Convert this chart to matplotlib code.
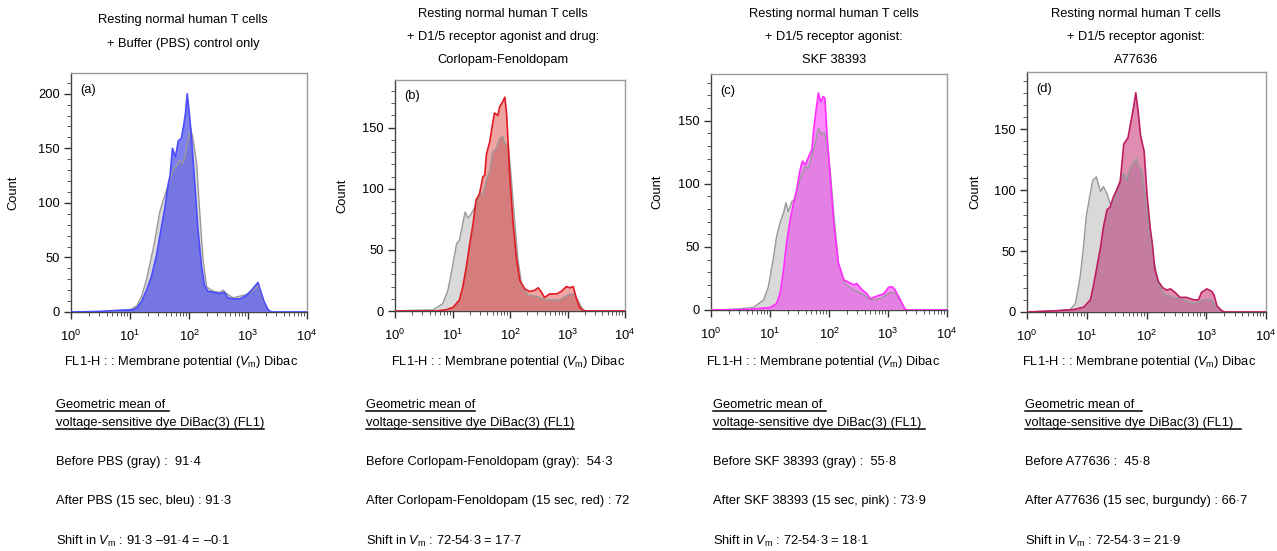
import numpy as np
import matplotlib
matplotlib.use("Agg")
import matplotlib.pyplot as plt
from matplotlib.ticker import LogLocator, MultipleLocator, NullFormatter
from matplotlib.lines import Line2D

plt.rcParams["font.family"] = ["Liberation Sans", "DejaVu Sans"]
plt.rcParams["mathtext.fontset"] = "custom"
plt.rcParams["mathtext.rm"] = "Liberation Sans"
plt.rcParams["mathtext.it"] = "Liberation Sans:italic"
plt.rcParams["mathtext.bf"] = "Liberation Sans:bold"

# ─── DATA (log10 FL1-H, count) ────────────────────────────────────────────────
a_gray_log = [0.0, 0.6, 1.0, 1.12, 1.2, 1.28, 1.4, 1.51, 1.62, 1.73, 1.79, 1.84, 1.89, 1.93,
              1.99, 2.03, 2.07, 2.13, 2.18, 2.24, 2.3, 2.41, 2.52, 2.58, 2.63, 2.75, 2.97,
              3.09, 3.17, 3.25, 3.36, 4.0]
a_gray_cnt = [0, 0.5, 2, 6, 15, 30, 60, 93, 112, 130, 134, 139, 136, 142,
              160, 168, 158, 136, 93, 47, 23, 19, 18, 20, 17, 13, 16,
              20, 24, 11, 0, 0]
a_col_log = [0.0, 0.5, 0.8, 1.05, 1.12, 1.2, 1.28, 1.36, 1.45, 1.53, 1.59, 1.65, 1.68, 1.72,
             1.77, 1.82, 1.87, 1.91, 1.94, 1.97, 2.0, 2.04, 2.1, 2.15, 2.21, 2.26, 2.32,
             2.42, 2.52, 2.6, 2.66, 2.75, 2.86, 2.97, 3.06, 3.12, 3.17, 3.21, 3.27, 3.34,
             3.4, 4.0]
a_col_cnt = [0, 0.5, 1.5, 2, 4, 10, 20, 32, 52, 77, 95, 118, 125, 150,
             142, 157, 159, 171, 182, 200, 185, 162, 116, 77, 43, 25, 19,
             18, 17, 18, 13, 12, 12, 15, 20, 24, 27, 20, 10, 2,
             0, 0]

b_gray_log = [0.0, 0.26, 0.66, 0.83, 0.92, 1.01, 1.07, 1.12, 1.18, 1.22, 1.27, 1.33, 1.39,
              1.47, 1.53, 1.59, 1.65, 1.70, 1.76, 1.82, 1.87, 1.91, 1.97, 2.02, 2.08, 2.14,
              2.20, 2.31, 2.46, 2.63, 2.86, 3.04, 3.12, 3.21, 3.27, 3.32, 4.0]
b_gray_cnt = [0, 0.5, 1, 6, 17, 39, 55, 58, 72, 81, 76, 80, 85,
              96, 96, 107, 115, 130, 133, 141, 143, 137, 136, 110, 74, 42,
              22, 13, 12, 9, 9, 14, 14, 6, 1, 0, 0]
b_col_log = [0.0, 0.72, 0.89, 1.01, 1.12, 1.18, 1.24, 1.30, 1.36, 1.41, 1.47, 1.53, 1.56,
             1.59, 1.65, 1.70, 1.73, 1.79, 1.82, 1.87, 1.91, 1.94, 1.97, 1.99, 2.05, 2.11,
             2.17, 2.26, 2.34, 2.43, 2.49, 2.54, 2.60, 2.69, 2.81, 2.89, 2.98, 3.04, 3.10,
             3.15, 3.21, 3.27, 3.32, 4.0]
b_col_cnt = [0, 0, 1, 3, 9, 20, 36, 55, 72, 91, 96, 110, 111,
             128, 139, 154, 162, 160, 167, 171, 175, 162, 135, 115, 74, 44,
             25, 18, 16, 17, 19, 16, 11, 14, 14, 16, 20, 19, 20,
             11, 3, 0.5, 0, 0]

c_gray_log = [0.0, 0.38, 0.72, 0.89, 0.97, 1.06, 1.11, 1.17, 1.23, 1.27, 1.31, 1.37, 1.43,
              1.48, 1.54, 1.60, 1.65, 1.71, 1.77, 1.82, 1.88, 1.92, 1.96, 2.02, 2.08, 2.16,
              2.27, 2.42, 2.59, 2.70, 2.87, 3.04, 3.12, 3.21, 3.29, 3.34, 4.0]
c_gray_cnt = [0, 0.5, 2, 8, 18, 42, 58, 69, 77, 85, 78, 86, 88,
              99, 108, 114, 112, 123, 133, 144, 139, 141, 133, 111, 77, 37,
              21, 16, 12, 8, 9, 14, 14, 7, 0.5, 0, 0]
c_col_log = [0.0, 0.66, 1.0, 1.11, 1.17, 1.23, 1.28, 1.34, 1.40, 1.45, 1.51, 1.55, 1.60,
             1.65, 1.71, 1.74, 1.78, 1.82, 1.86, 1.90, 1.93, 1.97, 2.02, 2.08, 2.16, 2.25,
             2.33, 2.42, 2.47, 2.56, 2.64, 2.70, 2.81, 2.93, 3.01, 3.07, 3.12, 3.21, 3.29,
             3.34, 4.0]
c_col_cnt = [0, 0.5, 2, 5, 13, 32, 53, 71, 85, 95, 111, 118, 115,
             121, 127, 143, 158, 172, 165, 169, 168, 137, 106, 69, 37, 24,
             22, 20, 21, 16, 13, 9, 11, 13, 18, 18.5, 16, 8, 0.5,
             0, 0]

d_gray_log = [0.0, 0.45, 0.72, 0.81, 0.89, 0.95, 0.99, 1.05, 1.10, 1.16, 1.23, 1.28, 1.34,
              1.39, 1.45, 1.50, 1.56, 1.62, 1.67, 1.73, 1.78, 1.83, 1.87, 1.92, 1.98, 2.03,
              2.12, 2.20, 2.31, 2.45, 2.62, 2.79, 2.95, 3.09, 3.18, 3.26, 3.31, 4.0]
d_gray_cnt = [0, 1, 2, 7, 29, 56, 78, 95, 108, 111, 99, 103, 97,
              89, 90, 100, 108, 114, 108, 119, 122, 126, 119, 117, 95, 73,
              43, 23, 14, 12, 10, 7, 10, 10, 4, 1, 0, 0]
d_col_log = [0.0, 0.5, 0.78, 0.95, 1.06, 1.11, 1.17, 1.23, 1.28, 1.34, 1.39, 1.45, 1.50,
             1.56, 1.62, 1.69, 1.75, 1.79, 1.82, 1.86, 1.90, 1.96, 2.01, 2.06, 2.10, 2.14,
             2.20, 2.27, 2.34, 2.40, 2.48, 2.56, 2.67, 2.79, 2.87, 2.92, 3.01, 3.09, 3.13,
             3.18, 3.26, 3.31, 4.0]
d_col_cnt = [0, 1, 2, 4, 10, 21, 37, 53, 70, 84, 86, 95, 100,
             107, 138, 143, 159, 170, 180, 165, 145, 132, 96, 70, 55, 35,
             25, 20, 18, 19, 16, 12, 12, 10, 10, 16, 19, 17, 14,
             5, 1, 0, 0]

panel_tags = ["(a)", "(b)", "(c)", "(d)"]
titles = [
    ["Resting normal human T cells", "+ Buffer (PBS) control only"],
    ["Resting normal human T cells", "+ D1/5 receptor agonist and drug:", "Corlopam-Fenoldopam"],
    ["Resting normal human T cells", "+ D1/5 receptor agonist:", "SKF 38393"],
    ["Resting normal human T cells", "+ D1/5 receptor agonist:", "A77636"],
]
heads = [
    ["Geometric mean of ", "voltage-sensitive dye DiBac(3) (FL1)"],
    ["Geometric mean of", "voltage-sensitive dye DiBac(3) (FL1)"],
    ["Geometric mean of ", "voltage-sensitive dye DiBac(3) (FL1) "],
    ["Geometric mean of  ", "voltage-sensitive dye DiBac(3) (FL1)  "],
]
before_txt = ["Before PBS (gray) :  91·4",
              "Before Corlopam-Fenoldopam (gray):  54·3",
              "Before SKF 38393 (gray) :  55·8",
              "Before A77636 :  45·8"]
after_txt = ["After PBS (15 sec, bleu) : 91·3",
             "After Corlopam-Fenoldopam (15 sec, red) : 72",
             "After SKF 38393 (15 sec, pink) : 73·9",
             "After A77636 (15 sec, burgundy) : 66·7"]
shift_txt = [r"Shift in $V_{\mathrm{m}}$ : 91·3 –91·4 = –0·1",
             r"Shift in $V_{\mathrm{m}}$ : 72-54·3 = 17·7",
             r"Shift in $V_{\mathrm{m}}$ : 72-54·3 = 18·1",
             r"Shift in $V_{\mathrm{m}}$ : 72-54·3 = 21·9"]

series = [
    (a_gray_log, a_gray_cnt, a_col_log, a_col_cnt),
    (b_gray_log, b_gray_cnt, b_col_log, b_col_cnt),
    (c_gray_log, c_gray_cnt, c_col_log, c_col_cnt),
    (d_gray_log, d_gray_cnt, d_col_log, d_col_cnt),
]

# ─── STYLE / LAYOUT (pixels) ──────────────────────────────────────────────────
W, H = 1277, 551
GRAY_FILL, GRAY_LINE = "#d9d9d9", "#9a9a9a"
# (line, fill where alone, fill where overlapping gray)
COLORS = [
    ("#4b4bff", "#7f81ee", "#7676e2"),
    ("#e01b24", "#f0a3a3", "#d57d7d"),
    ("#ff2eff", "#ff8cff", "#e47fe4"),
    ("#bf1d5f", "#e08db1", "#c47ca0"),
]
AX_BOX = [(71, 307, 73, 312), (395, 625, 80, 311), (711, 947, 74, 310), (1027, 1266, 72, 312)]
YTOP = [219, 189, 187, 197]
TITLE_X = [183, 503, 834, 1136]
XLAB_X = [181, 508, 823, 1139]
YLAB_X = [13, 342, 657, 975]
TEXT_X = [56, 366, 713, 1025]
FS = 9.3

fig = plt.figure(figsize=(W / 100, H / 100), dpi=100)


def fx(px):
    return px / W


def fy(py):
    return 1 - py / H


head_texts = []
for i in range(4):
    l, r, t, b = AX_BOX[i]
    ax = fig.add_axes([fx(l), fy(b), fx(r - l), (b - t) / H])
    glog, gcnt, clog, ccnt = series[i]
    gx = 10 ** np.array(glog)
    cx = 10 ** np.array(clog)
    line_c, light_c, dark_c = COLORS[i]

    gpoly = ax.fill(gx, gcnt, color=GRAY_FILL, lw=0, zorder=1)[0]
    ax.fill(cx, ccnt, color=light_c, lw=0, zorder=2)
    over = ax.fill(cx, ccnt, color=dark_c, lw=0, zorder=3)[0]
    over.set_clip_path(gpoly)
    ax.plot(gx, gcnt, color=GRAY_LINE, lw=1.0, zorder=4)
    ax.plot(cx, ccnt, color=line_c, lw=1.2, zorder=5)

    ax.set_xscale("log")
    ax.set_xlim(1, 1e4)
    ax.set_ylim(0, YTOP[i])
    ax.xaxis.set_major_locator(LogLocator(base=10, numticks=10))
    ax.xaxis.set_minor_locator(LogLocator(base=10, subs=np.arange(2, 10), numticks=20))
    ax.xaxis.set_minor_formatter(NullFormatter())
    ax.yaxis.set_major_locator(MultipleLocator(50))
    ax.yaxis.set_minor_locator(MultipleLocator(10))
    ax.tick_params(which="major", direction="out", length=5, width=1, labelsize=FS,
                   color="#333333", pad=3)
    ax.tick_params(axis="x", which="major", pad=7)
    ax.tick_params(which="minor", direction="out", length=3, width=0.7, color="#555555")
    for side in ["left", "bottom"]:
        ax.spines[side].set_color("#444444")
    for side in ["top", "right"]:
        ax.spines[side].set_color("#9a9a9a")
    for sp in ax.spines.values():
        sp.set_linewidth(1)
    ax.text(0.04, 0.955, panel_tags[i], transform=ax.transAxes, ha="left", va="top", fontsize=FS)

    # titles
    tl = titles[i]
    ys = [20, 44] if len(tl) == 2 else [14, 37, 60]
    for s, yy in zip(tl, ys):
        fig.text(fx(TITLE_X[i]), fy(yy), s, ha="center", va="center", fontsize=FS)

    fig.text(fx(YLAB_X[i]), fy((t + b) / 2), "Count", rotation=90, ha="center", va="center",
             fontsize=FS)
    fig.text(fx(XLAB_X[i]), fy(365), r"FL1-H : : Membrane potential ($V_{\mathrm{m}}$) Dibac",
             ha="center", va="baseline", fontsize=FS)

    x0 = fx(TEXT_X[i])
    h1 = fig.text(x0, fy(408), heads[i][0], ha="left", va="baseline", fontsize=FS)
    h2 = fig.text(x0, fy(426), heads[i][1], ha="left", va="baseline", fontsize=FS)
    head_texts.append((h1, 411))
    head_texts.append((h2, 429))
    fig.text(x0, fy(465), before_txt[i], ha="left", va="baseline", fontsize=FS)
    fig.text(x0, fy(504), after_txt[i], ha="left", va="baseline", fontsize=FS)
    fig.text(x0, fy(545), shift_txt[i], ha="left", va="baseline", fontsize=FS)

# underline the headings
fig.canvas.draw()
rend = fig.canvas.get_renderer()
for txt, uy in head_texts:
    bb = txt.get_window_extent(rend)
    fig.add_artist(Line2D([bb.x0 / W, bb.x1 / W], [fy(uy), fy(uy)], color="black", lw=1.1,
                          transform=fig.transFigure))

fig.savefig("out.png", dpi=100)
